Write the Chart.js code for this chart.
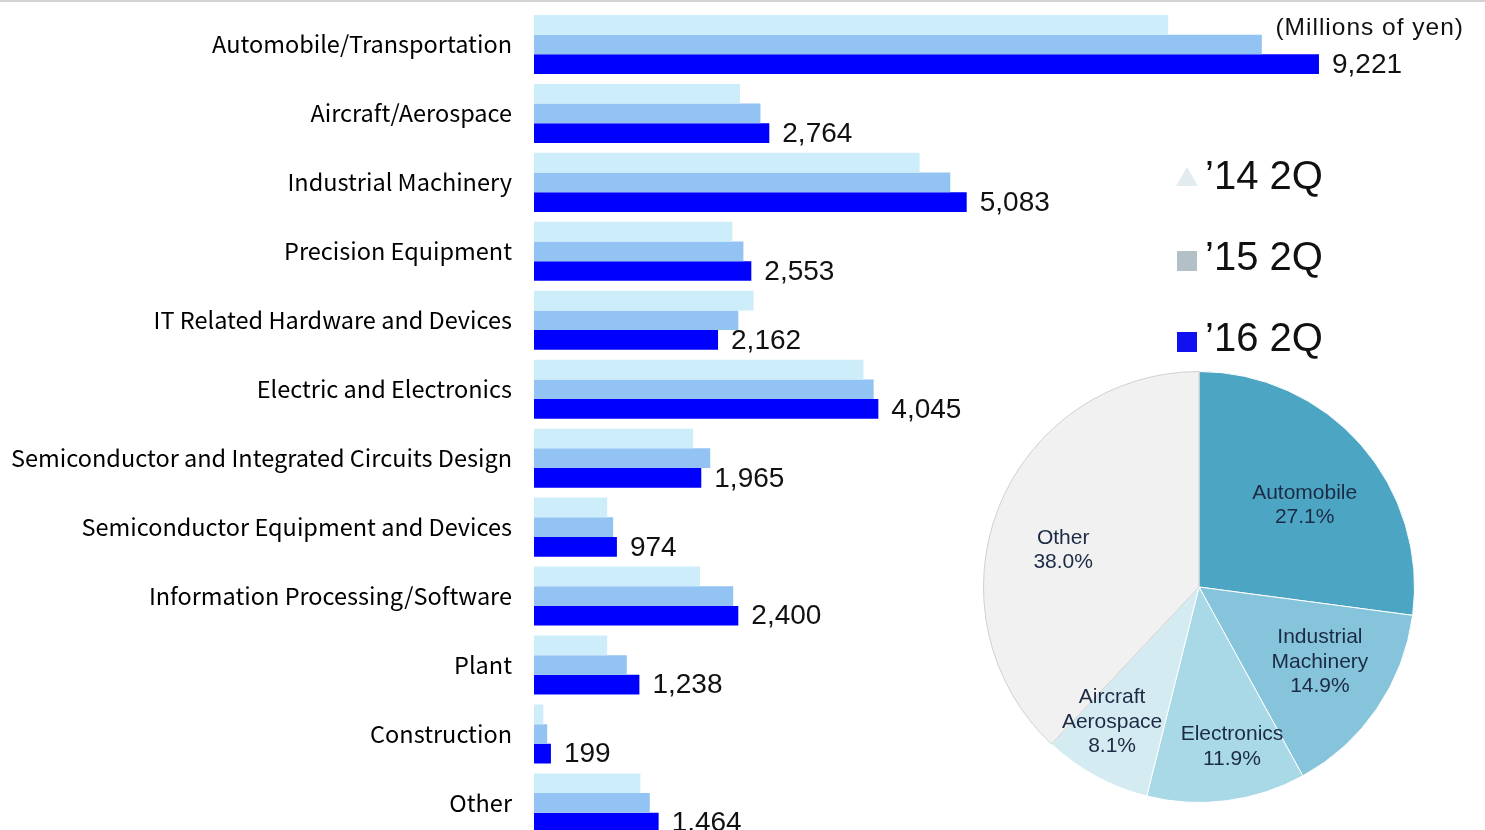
<!DOCTYPE html>
<html>
<head>
<meta charset="utf-8">
<script src="https://cdn.jsdelivr.net/npm/chart.js@4.4.1/dist/chart.umd.min.js"></script>
<style>
  html, body { margin: 0; padding: 0; background: #fff; overflow: hidden; }
  body { width: 1485px; height: 830px; position: relative; }
  #topLine { position: absolute; left: 0; top: 0; width: 100%; height: 2px; background: #d2d2d2; z-index: 3; }
  #barWrap { position: absolute; left: 0; top: 0; width: 1485px; height: 850px; }
  #pieWrap { position: absolute; left: 979px; top: 367px; width: 440px; height: 440px; }
</style>
</head>
<body>
<div id="topLine"></div>
<div id="barWrap"><canvas id="barChart"></canvas></div>
<div id="pieWrap"><canvas id="pieChart"></canvas></div>
<script>
const categories = [
  'Automobile/Transportation',
  'Aircraft/Aerospace',
  'Industrial Machinery',
  'Precision Equipment',
  'IT Related Hardware and Devices',
  'Electric and Electronics',
  'Semiconductor and Integrated Circuits Design',
  'Semiconductor Equipment and Devices',
  'Information Processing/Software',
  'Plant',
  'Construction',
  'Other'
];
const seriesLabels = ['\u201914 2Q', '\u201915 2Q', '\u201916 2Q'];

// sales by field, millions of yen
const q2014 = [7450, 2420, 4530, 2330, 2580, 3870, 1870, 860, 1950, 860, 110, 1250];
const q2015 = [8550, 2660, 4890, 2460, 2400, 3990, 2070, 930, 2340, 1090, 155, 1360];
const q2016 = [9221, 2764, 5083, 2553, 2162, 4045, 1965, 974, 2400, 1238, 199, 1464];

const unitLabel = '(Millions of yen)';

// share of '16 2Q sales
const pieLabels = [['Automobile'], ['Industrial', 'Machinery'], ['Electronics'], ['Aircraft', 'Aerospace'], ['Other']];
const pieShares = [27.1, 14.9, 11.9, 8.1, 38.0];

// value next to each '16 bar
const valueLabels = {
  id: 'valueLabels',
  afterDatasetsDraw(chart) {
    const ctx = chart.ctx;
    const meta = chart.getDatasetMeta(2);
    ctx.save();
    ctx.font = '28px "Liberation Sans", Arial, sans-serif';
    ctx.fillStyle = '#111';
    ctx.textAlign = 'left';
    ctx.textBaseline = 'middle';
    meta.data.forEach((bar, i) => {
      ctx.fillText(q2016[i].toLocaleString('en-US'), bar.x + 13, bar.y + 1);
    });
    ctx.restore();
  }
};

// legend column on the right plus the unit note
const sideLegend = {
  id: 'sideLegend',
  afterDraw(chart, args, opts) {
    const ctx = chart.ctx;
    ctx.save();
    chart.data.datasets.forEach((ds, i) => {
      const y = opts.top + i * opts.spacing;
      const mx = opts.x - 28;
      ctx.fillStyle = opts.markers[i];
      if (i === 0) {
        ctx.beginPath();
        ctx.moveTo(mx + 10, y - 11);
        ctx.lineTo(mx + 21, y + 8);
        ctx.lineTo(mx - 1, y + 8);
        ctx.closePath();
        ctx.fill();
      } else {
        ctx.fillRect(mx, y - 8, 20, 20);
      }
      ctx.fillStyle = '#111';
      ctx.font = '40px "Liberation Sans", Arial, sans-serif';
      ctx.textAlign = 'left';
      ctx.textBaseline = 'middle';
      ctx.fillText(ds.label, opts.x, y);
    });
    ctx.font = '24.5px "Liberation Sans", Arial, sans-serif';
    ctx.letterSpacing = '1px';
    ctx.textAlign = 'right';
    ctx.textBaseline = 'middle';
    ctx.fillStyle = '#111';
    ctx.fillText(unitLabel, chart.width - 21, 28);
    ctx.restore();
  }
};

new Chart(document.getElementById('barChart'), {
  type: 'bar',
  data: {
    labels: categories,
    datasets: [
      { label: seriesLabels[0], data: q2014, backgroundColor: '#cdedfb' },
      { label: seriesLabels[1], data: q2015, backgroundColor: '#93c3f3' },
      { label: seriesLabels[2], data: q2016, backgroundColor: '#0000ff' }
    ]
  },
  options: {
    indexAxis: 'y',
    responsive: true,
    maintainAspectRatio: false,
    animation: false,
    datasets: { bar: { barPercentage: 1, categoryPercentage: 0.856 } },
    layout: { padding: { top: 10, bottom: 12.6, left: 0, right: 14.6 } },
    scales: {
      x: { display: false, min: 0, max: 11000 },
      y: {
        grid: { display: false, drawTicks: false },
        border: { display: false },
        ticks: {
          autoSkip: false,
          padding: 22,
          color: '#000',
          font: { family: '"Noto Sans CJK JP", sans-serif', size: 23.5 }
        },
        afterFit(scale) {
          scale.width = 534;
          scale.paddingTop = 0;
          scale.paddingBottom = 0;
        }
      }
    },
    plugins: {
      legend: { display: false },
      tooltip: { enabled: false },
      sideLegend: { x: 1205, top: 178, spacing: 81, markers: ['#e2ecf0', '#b4c0c8', '#1010f0'] }
    }
  },
  plugins: [valueLabels, sideLegend]
});

// text inside each slice: radius fraction and angle nudge (degrees) per slice
const sliceLabelRadius = [0.62, 0.66, 0.756, 0.744, 0.653];
const sliceLabelNudge = [3.5, -2.6, -4.3, 4.2, -6.4];
const sliceLabels = {
  id: 'sliceLabels',
  afterDatasetsDraw(chart) {
    const ctx = chart.ctx;
    const meta = chart.getDatasetMeta(0);
    ctx.save();
    ctx.font = '21px "Liberation Sans", Arial, sans-serif';
    ctx.fillStyle = '#1c2b45';
    ctx.textAlign = 'center';
    ctx.textBaseline = 'middle';
    meta.data.forEach((arc, i) => {
      const mid = (arc.startAngle + arc.endAngle) / 2 + sliceLabelNudge[i] * Math.PI / 180;
      const r = arc.outerRadius * sliceLabelRadius[i];
      const cx = arc.x + Math.cos(mid) * r;
      const cy = arc.y + Math.sin(mid) * r;
      const lines = pieLabels[i].concat([pieShares[i].toFixed(1) + '%']);
      const lh = 24.5;
      lines.forEach((t, j) => {
        ctx.fillText(t, cx, cy + (j - (lines.length - 1) / 2) * lh);
      });
    });
    ctx.restore();
  }
};

new Chart(document.getElementById('pieChart'), {
  type: 'pie',
  data: {
    labels: pieLabels.map(l => l.join(' ')),
    datasets: [{
      data: pieShares,
      backgroundColor: ['#4ca5c3', '#85c4da', '#a9d8e6', '#d4ebf2', '#f1f1f1'],
      borderColor: ['#ffffff', '#ffffff', '#ffffff', '#ffffff', '#d0d0d0'],
      borderWidth: 1
    }]
  },
  options: {
    responsive: true,
    maintainAspectRatio: false,
    animation: false,
    layout: { padding: 4 },
    plugins: { legend: { display: false }, tooltip: { enabled: false } }
  },
  plugins: [sliceLabels]
});
</script>
</body>
</html>
